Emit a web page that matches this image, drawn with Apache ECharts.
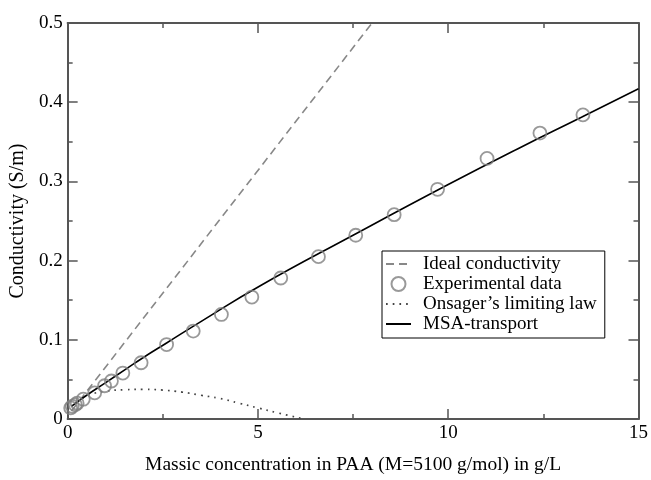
<!DOCTYPE html>
<html>
<head>
<meta charset="utf-8">
<script src="https://cdn.jsdelivr.net/npm/echarts@6/dist/echarts.min.js"></script>
<style>
html,body{margin:0;padding:0;background:#fff;}
#main{width:651px;height:480px;}
</style>
</head>
<body>
<div id="main"></div>
<script>
// ---- data ----
const expX = [0.08, 0.12, 0.2, 0.25, 0.41, 0.71, 0.97, 1.15, 1.45, 1.93, 2.60, 3.30, 4.04, 4.84, 5.60, 6.59, 7.57, 8.58, 9.72, 11.02, 12.41, 13.54];
const expY = [0.014, 0.016, 0.018, 0.020, 0.025, 0.033, 0.042, 0.048, 0.058, 0.071, 0.094, 0.111, 0.132, 0.154, 0.178, 0.205, 0.232, 0.258, 0.290, 0.329, 0.361, 0.384];

const idealX = [0.1, 8.0];
const idealY = [0.01, 0.5];

const msaX = [0.1, 0.5, 1, 1.5, 2, 2.6, 3.5, 5.05, 7.5, 10, 11.82, 13.5, 15];
const msaY = [0.016, 0.030, 0.046, 0.062, 0.078, 0.096, 0.123, 0.168, 0.232, 0.296, 0.341, 0.381, 0.417];

const onsX = [0.1, 0.3, 0.6, 1.0, 1.5, 2.0, 2.5, 3.0, 3.5, 4.0, 4.5, 5.0, 5.5, 6.2];
const onsY = [0.016, 0.024, 0.031, 0.035, 0.037, 0.0375, 0.0365, 0.034, 0.030, 0.026, 0.020, 0.014, 0.008, 0.0];

const xTicks = [0, 5, 10, 15];
const yTicks = [0, 0.1, 0.2, 0.3, 0.4, 0.5];

const names = ['Ideal conductivity', 'Experimental data', 'Onsager\u2019s limiting law', 'MSA-transport'];

const zip = (xs, ys) => xs.map((x, i) => [x, ys[i]]);
const FONT = '"Liberation Serif", "DejaVu Serif", serif';
const AX = '#555';

const chart = echarts.init(document.getElementById('main'), null, {renderer: 'canvas'});

function xAxisCfg(pos, showLabel) {
  return {
    type: 'value', position: pos, min: xTicks[0], max: xTicks[xTicks.length - 1], interval: 5,
    axisLine: {show: true, onZero: false, lineStyle: {color: AX, width: 2}},
    axisTick: {show: true, inside: true, length: 10, lineStyle: {color: AX, width: 1.5}},
    minorTick: {show: true, splitNumber: 2, length: 5, lineStyle: {color: AX, width: 1.5}},
    splitLine: {show: false},
    axisLabel: {show: showLabel, color: '#000', fontFamily: FONT, fontSize: 19, margin: 5},
    name: showLabel ? 'Massic concentration in PAA (M=5100 g/mol) in g/L' : '',
    nameLocation: 'middle', nameGap: 36,
    nameTextStyle: {color: '#000', fontFamily: FONT, fontSize: 19.5}
  };
}
function yAxisCfg(pos, showLabel) {
  return {
    type: 'value', position: pos, min: yTicks[0], max: yTicks[yTicks.length - 1], interval: 0.1,
    axisLine: {show: true, onZero: false, lineStyle: {color: AX, width: 2}},
    axisTick: {show: true, inside: true, length: 10, lineStyle: {color: AX, width: 1.5}},
    minorTick: {show: true, splitNumber: 2, length: 5, lineStyle: {color: AX, width: 1.5}},
    splitLine: {show: false},
    axisLabel: {show: showLabel, color: '#000', fontFamily: FONT, fontSize: 19, margin: 5},
    name: showLabel ? 'Conductivity (S/m)' : '',
    nameLocation: 'middle', nameGap: 38, nameRotate: 90,
    nameTextStyle: {color: '#000', fontFamily: FONT, fontSize: 20}
  };
}

const hideSym = {opacity: 0};

chart.setOption({
  animation: false,
  backgroundColor: '#fff',
  grid: {left: 66, right: 10, top: 23, bottom: 57, containLabel: false},
  xAxis: [xAxisCfg('bottom', true), xAxisCfg('top', false)],
  yAxis: [yAxisCfg('left', true), yAxisCfg('right', false)],
  legend: {
    data: [
      {name: names[0], itemStyle: hideSym},
      {name: names[1]},
      {name: names[2], itemStyle: hideSym},
      {name: names[3], itemStyle: hideSym}
    ],
    orient: 'vertical', left: 382, top: 251,
    width: 220,
    padding: [3, 8, 4, 3],
    itemGap: 0, itemWidth: 25, itemHeight: 14,
    borderColor: '#000', borderWidth: 1,
    backgroundColor: '#fff',
    textStyle: {color: '#000', fontFamily: FONT, fontSize: 19, lineHeight: 20, padding: [0, 0, 0, 7]},
    selectedMode: false
  },
  series: [
    {
      name: names[0], type: 'line', data: zip(idealX, idealY), symbol: 'none',
      lineStyle: {color: '#888', width: 1.6, type: [8, 5]}, itemStyle: {color: '#888'}, z: 2
    },
    {
      name: names[2], type: 'line', data: zip(onsX, onsY), symbol: 'none', smooth: true,
      lineStyle: {color: '#444', width: 1.7, type: [1.7, 5]}, itemStyle: {color: '#444'}, z: 2
    },
    {
      name: names[3], type: 'line', data: zip(msaX, msaY), symbol: 'none', smooth: true,
      lineStyle: {color: '#000', width: 1.6, type: 'solid'}, itemStyle: {color: '#000'}, z: 3
    },
    {
      name: names[1], type: 'scatter', data: zip(expX, expY), symbol: 'circle', symbolSize: 13,
      itemStyle: {color: 'rgba(0,0,0,0)', borderColor: '#808080', borderWidth: 1.8}, z: 4
    }
  ]
});
</script>
</body>
</html>
